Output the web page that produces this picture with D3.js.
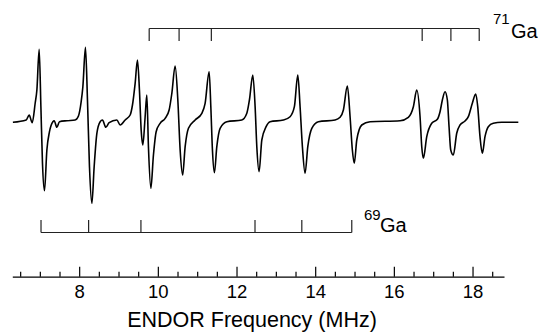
<!DOCTYPE html>
<html>
<head>
<meta charset="utf-8">
<script src="https://cdn.jsdelivr.net/npm/d3@7"></script>
<style>
  html, body { margin: 0; padding: 0; background: #fff; }
  svg { display: block; }
  text { font-family: "Liberation Sans", Arial, Helvetica, sans-serif; fill: #000; }
</style>
</head>
<body>
<svg id="chart" width="538" height="333"></svg>
<script>
// ENDOR spectrum trace (frequency in MHz, signal in arbitrary units)
const freqMHz = [6.315, 6.653, 6.729, 6.806, 6.882, 6.925, 6.983, 7.027, 7.067, 7.118,
  7.179, 7.245, 7.332, 7.365, 7.433, 7.499, 7.687, 7.898, 7.982, 8.051,
  8.094, 8.160, 8.211, 8.262, 8.323, 8.381, 8.450, 8.534, 8.592, 8.679,
  8.762, 8.958, 9.042, 9.169, 9.296, 9.355, 9.423, 9.482, 9.532, 9.576,
  9.619, 9.677, 9.720, 9.761, 9.822, 9.888, 9.957, 10.058, 10.186, 10.287,
  10.356, 10.440, 10.508, 10.567, 10.630, 10.694, 10.778, 10.948, 11.118, 11.202,
  11.304, 11.347, 11.388, 11.438, 11.499, 11.583, 11.754, 12.135, 12.262, 12.328,
  12.414, 12.473, 12.516, 12.574, 12.643, 12.752, 12.854, 13.192, 13.362, 13.471,
  13.558, 13.616, 13.675, 13.743, 13.812, 13.914, 14.081, 14.506, 14.633, 14.717,
  14.818, 14.887, 14.945, 14.994, 15.057, 15.184, 15.395, 16.158, 16.368, 16.496,
  16.582, 16.666, 16.709, 16.750, 16.836, 16.963, 17.106, 17.174, 17.233, 17.301,
  17.360, 17.403, 17.446, 17.512, 17.598, 17.682, 17.809, 17.893, 17.995, 18.081,
  18.132, 18.190, 18.249, 18.317, 18.401, 18.528, 18.741, 19.164];
const signal = [-1.3, 1, 6, -1.7, 18, 31, 71.7, 14.3, -42, -69.7,
  -29, -10.7, -0.7, 0.3, -6.3, -0.7, 0.3, 1, 5, 19.3,
  34.3, 73.7, 21, -45.7, -82.3, -45.7, -12.3, -0.7, 1, -6.3,
  -1.7, 1, -4, 1, 6, 16, 37.7, 61, 31, -9,
  -24, 4.3, 26, -25.7, -67.3, -34, -10.7, -2.3, 2.7, 11,
  27.7, 55, 21, -29, -54, -25.7, -7.3, 1, 7.7, 17.7,
  49.3, 14.3, -29, -51.7, -25.7, -7.3, -0.7, 1, 7.7, 21,
  46, 14.3, -25.7, -50.7, -19, -5.7, -0.7, 1, 4.3, 14.3,
  46, 14.3, -25.7, -52.3, -25.7, -7.3, -0.7, 1, 3.7, 11,
  35, 4.3, -29, -42.3, -19, -4, -0.7, 0.3, 3.7, 14.3,
  31, 4.3, -25.7, -37.3, -15.7, -2.3, 1.7, 9.3, 21, 29.3,
  21, -5.7, -29, -34, -12.3, -4, 0, 4.3, 17.7, 27,
  14.3, -15.7, -32.3, -15.7, -5.7, -2.3, -1.3, -1.3];

// Stick diagrams (line positions, MHz)
const ga71Lines = [9.78, 10.54, 11.36, 16.72, 17.45, 18.17];
const ga69Lines = [7.03, 8.24, 9.57, 12.47, 13.66, 14.93];

// Axis ticks
const majorTicks = [8, 10, 12, 14, 16, 18];
const minorTicks = [6.5, 7, 7.5, 8.5, 9, 9.5, 10.5, 11, 11.5, 12.5, 13, 13.5,
  14.5, 15, 15.5, 16.5, 17, 17.5, 18.5];
const xTitle = "ENDOR Frequency (MHz)";

const svg = d3.select("#chart");

const x = d3.scaleLinear().domain([6.3, 18.8]).range([12.3, 504]);
const y = d3.scaleLinear().domain([-100, 100]).range([221, 21]);

// Spectrum
const pts = freqMHz.map((f, i) => [f, signal[i]]);
const line = d3.line()
  .x(d => x(d[0]))
  .y(d => y(d[1]))
  .curve(d3.curveMonotoneX);
svg.append("path")
  .datum(pts)
  .attr("d", line)
  .attr("fill", "none")
  .attr("stroke", "#000")
  .attr("stroke-width", 1.6)
  .attr("stroke-linejoin", "round");

// Stick diagrams
function sticks(lines, yBar, yTip) {
  const g = svg.append("g")
    .attr("stroke", "#222")
    .attr("stroke-width", 1.2)
    .attr("fill", "none");
  g.append("line")
    .attr("x1", x(d3.min(lines))).attr("x2", x(d3.max(lines)))
    .attr("y1", yBar).attr("y2", yBar);
  g.selectAll("line.tick").data(lines).join("line")
    .attr("class", "tick")
    .attr("x1", d => x(d)).attr("x2", d => x(d))
    .attr("y1", yBar).attr("y2", yTip);
}
sticks(ga71Lines, 28.5, 41);
sticks(ga69Lines, 232.5, 220);

// Isotope labels
function isoLabel(mass, xSup, ySup, xEl, yEl) {
  svg.append("text").attr("x", xSup).attr("y", ySup).attr("font-size", 15).text(mass);
  svg.append("text").attr("x", xEl).attr("y", yEl).attr("font-size", 20).text("Ga");
}
isoLabel("71", 493, 24, 511, 38);
isoLabel("69", 364, 219.5, 380, 231.5);

// X axis
const axisY = 276.7;
svg.append("g")
  .attr("transform", `translate(0,${axisY})`)
  .call(d3.axisBottom(x).tickValues(minorTicks).tickSizeInner(-5).tickSizeOuter(0).tickFormat(""))
  .call(g => g.select(".domain").remove())
  .call(g => g.selectAll("line").attr("stroke", "#000").attr("stroke-width", 1.2));

const ax = svg.append("g")
  .attr("transform", `translate(0,${axisY})`)
  .call(d3.axisBottom(x).tickValues(majorTicks).tickSizeInner(-10).tickSizeOuter(0)
    .tickPadding(8).tickFormat(d3.format("d")));
ax.select(".domain").attr("stroke", "#000").attr("stroke-width", 1.3);
ax.selectAll("line").attr("stroke", "#000").attr("stroke-width", 1.2);
ax.selectAll("text")
  .attr("font-size", 18.5)
  .attr("font-family", '"Liberation Sans", Arial, sans-serif')
  .attr("fill", "#000");

svg.append("text")
  .attr("x", 252).attr("y", 327)
  .attr("text-anchor", "middle")
  .attr("font-size", 21.5)
  .text(xTitle);
</script>
</body>
</html>
